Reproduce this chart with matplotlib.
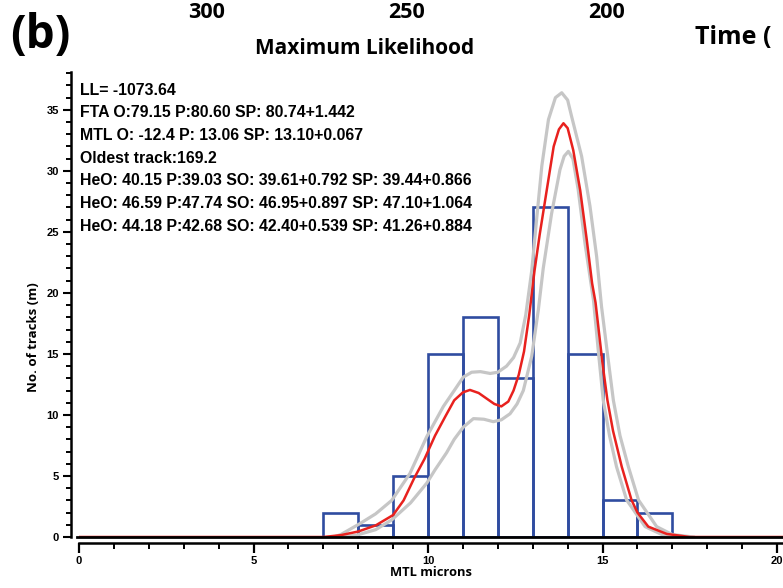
import numpy as np
import matplotlib
matplotlib.use("Agg")
import matplotlib.pyplot as plt
from matplotlib.ticker import MultipleLocator

# histogram of track lengths (1 micron bins)
bin_left = [7, 8, 9, 10, 11, 12, 13, 14, 15, 16]
counts = [2, 1, 5, 15, 18, 13, 27, 15, 3, 2]

# modelled distribution (red)
red_x = [0.0, 7.0, 7.5, 8.0, 8.5, 9.0, 9.3, 9.6, 9.9, 10.2, 10.5, 10.75, 11.0, 11.2,
         11.45, 11.7, 11.9, 12.1, 12.3, 12.45, 12.6, 12.75, 12.9, 13.05, 13.2, 13.4,
         13.6, 13.75, 13.88, 14.0, 14.16, 14.36, 14.55, 14.7, 14.8, 15.0, 15.14, 15.3,
         15.55, 15.83, 16.0, 16.31, 16.84, 17.5, 20.17]
red_y = [0.0, 0.0, 0.15, 0.45, 0.95, 1.8, 3.0, 4.8, 6.4, 8.3, 9.9, 11.2, 11.85, 12.05,
         11.8, 11.3, 10.9, 10.7, 11.1, 12.0, 13.3, 15.2, 18.2, 21.8, 24.8, 28.4,
         32.0, 33.4, 33.9, 33.5, 31.7, 28.4, 24.3, 20.8, 19.2, 14.2, 11.2, 8.7,
         5.76, 3.03, 2.0, 0.85, 0.25, 0.0, 0.0]

# confidence envelope (grey)
up_x = [7.3, 7.5, 8.05, 8.5, 8.96, 9.48, 9.96, 10.44, 10.75, 11.01, 11.25, 11.5, 11.78,
        12.0, 12.25, 12.45, 12.64, 12.8, 12.97, 13.11, 13.26, 13.45, 13.65, 13.83, 14.0,
        14.11, 14.4, 14.64, 14.83, 14.97, 15.15, 15.31, 15.5, 15.74, 16.03, 16.55, 17.0, 17.6]
up_y = [0.0, 0.2, 1.1, 1.9, 3.0, 5.2, 8.2, 10.7, 12.0, 13.1, 13.5, 13.55, 13.4,
        13.5, 14.0, 14.7, 15.9, 18.2, 21.8, 26.0, 30.4, 34.2, 36.0, 36.4, 35.8,
        34.5, 31.2, 27.1, 23.0, 18.9, 14.8, 11.2, 8.3, 5.76, 3.03, 0.85, 0.2, 0.0]
lo_x = [7.5, 7.95, 8.5, 8.96, 9.5, 9.96, 10.2, 10.53, 10.75, 11.01, 11.3, 11.6, 11.87,
        12.1, 12.35, 12.55, 12.73, 12.97, 13.16, 13.3, 13.54, 13.78, 13.9, 14.02, 14.15,
        14.3, 14.5, 14.74, 14.88, 15.02, 15.2, 15.4, 15.69, 16.22, 16.7, 17.3]
lo_y = [0.0, 0.15, 0.6, 1.4, 2.8, 4.4, 5.5, 6.9, 8.0, 9.0, 9.7, 9.65, 9.45,
        9.6, 10.1, 10.9, 12.0, 14.8, 18.6, 22.0, 26.5, 30.1, 31.2, 31.6, 31.0,
        28.5, 24.0, 19.4, 15.2, 11.2, 8.3, 5.76, 3.03, 0.85, 0.2, 0.0]

info_lines = [
    "LL= -1073.64",
    "FTA O:79.15 P:80.60 SP: 80.74+1.442",
    "MTL O: -12.4 P: 13.06 SP: 13.10+0.067",
    "Oldest track:169.2",
    "HeO: 40.15 P:39.03 SO: 39.61+0.792 SP: 39.44+0.866",
    "HeO: 46.59 P:47.74 SO: 46.95+0.897 SP: 47.10+1.064",
    "HeO: 44.18 P:42.68 SO: 42.40+0.539 SP: 41.26+0.884",
]
top_ticks = ["300", "250", "200"]

W, H = 783, 588
fig = plt.figure(figsize=(W / 100, H / 100), dpi=100)
ax = fig.add_axes([79 / W, 51 / H, (W - 79) / W, 465 / H])

blue = "#2F4CA0"
ax.bar(bin_left, counts, width=1.0, align="edge", fill=False,
       edgecolor=blue, linewidth=1.9, zorder=2)
ax.plot(up_x, up_y, color="#C6C6C6", lw=2.3, zorder=3)
ax.plot(lo_x, lo_y, color="#C6C6C6", lw=2.3, zorder=3)
ax.plot(red_x, red_y, color="#E8211E", lw=1.8, zorder=4)
ax.plot([-0.06, 20.17], [0, 0], color="black", lw=2.0, zorder=5, clip_on=False)

ax.set_xlim(0, 20.17)
ax.set_ylim(0, 38.1)
for s in ["top", "right"]:
    ax.spines[s].set_visible(False)
ax.spines["left"].set_position(("outward", 5.5))
ax.spines["bottom"].set_position(("outward", 4.5))
ax.spines["left"].set_linewidth(1.8)
ax.spines["bottom"].set_linewidth(1.8)

ax.xaxis.set_major_locator(MultipleLocator(5))
ax.xaxis.set_minor_locator(MultipleLocator(1))
ax.yaxis.set_major_locator(MultipleLocator(5))
ax.yaxis.set_minor_locator(MultipleLocator(1))
ax.tick_params(axis="x", which="major", length=7, width=1.6, pad=2)
ax.tick_params(axis="x", which="minor", length=4.5, width=1.4)
ax.tick_params(axis="y", which="major", length=6, width=1.5, pad=3)
ax.tick_params(axis="y", which="minor", length=3.5, width=1.4)
for lab in ax.get_xticklabels() + ax.get_yticklabels():
    lab.set_fontfamily("Liberation Sans")
    lab.set_fontweight("bold")
    lab.set_fontsize(8)

ax.set_xlabel("MTL microns", fontsize=9.3, fontweight="bold", family="Open Sans", labelpad=0)
ax.set_ylabel("No. of tracks (m)", fontsize=9.5, fontweight="bold", family="Open Sans")
ax.yaxis.set_label_coords(-0.055, 0.43)

def px(x, y):
    return x / W, 1 - y / H

for i, line in enumerate(info_lines):
    fig.text(*px(80, 90 + i * 22.7), line, fontsize=11.4, fontweight="bold",
             family="Liberation Sans", va="center", ha="left")

fig.text(*px(365, 48), "Maximum Likelihood", fontsize=15, fontweight="bold",
         family="Open Sans", ha="center", va="center")
fig.text(*px(40, 35), "(b)", fontsize=33, fontweight="bold",
         family="Open Sans", ha="center", va="center")
fig.text(*px(695, 38), "Time (", fontsize=18, fontweight="bold",
         family="Open Sans", ha="left", va="center")
for lab, xp in zip(top_ticks, [207, 407, 607]):
    fig.text(*px(xp, 18), lab, fontsize=15.5, fontweight="bold",
             family="Open Sans", ha="center", va="baseline")

fig.savefig("out.png", dpi=100)
